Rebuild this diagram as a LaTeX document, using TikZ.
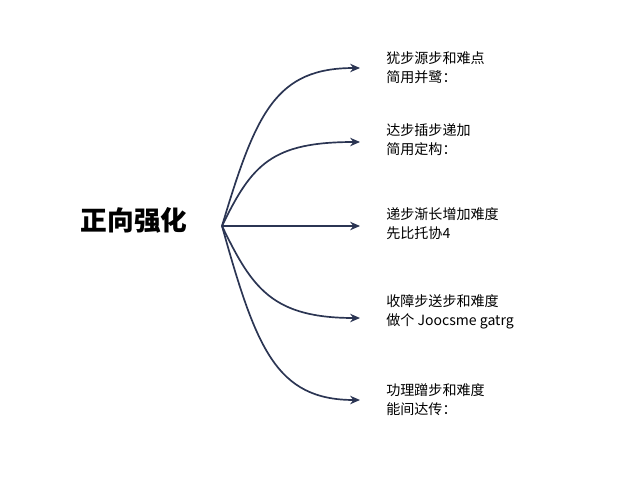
\documentclass[tikz,border=0pt]{standalone}
\usepackage{fontspec}
\newfontfamily\cjk{Noto Sans CJK SC}
\usetikzlibrary{arrows.meta,positioning}
\definecolor{navy}{HTML}{2B3553}

\begin{document}
\begin{tikzpicture}[
    branch/.style={-{Stealth[length=7pt,width=6pt]}, navy, line width=1.2pt},
    label/.style={anchor=west, align=left, font=\cjk\fontsize{10}{13.5}\selectfont, inner sep=0pt}
]
    \useasboundingbox (0,0) rectangle (16,12);
    \node[font=\cjk\bfseries\fontsize{19}{22}\selectfont] (root) at (3.35,6.5) {正向强化};
    \coordinate (hub) at (5.55,6.35);
    \coordinate (e1) at (9.0,10.3);
    \coordinate (e2) at (9.0,8.45);
    \coordinate (e3) at (9.0,6.35);
    \coordinate (e4) at (9.0,4.05);
    \coordinate (e5) at (9.0,2.0);

    \node[label] (t1) at (9.65,10.3) {犹步源步和难点\\简用并鹭：};
    \node[label] (t2) at (9.65,8.5) {达步插步递加\\简用定构：};
    \node[label] (t3) at (9.65,6.4) {递步渐长增加难度\\先比托协4};
    \node[label] (t4) at (9.65,4.2) {收障步送步和难度\\做个 Joocsme gatrg};
    \node[label] (t5) at (9.65,2.0) {功理蹭步和难度\\能间达传：};

    \draw[branch] (hub) .. controls (6.4,9.2) and (6.9,10.3) .. (e1);
    \draw[branch] (hub) .. controls (6.3,7.9) and (6.8,8.45) .. (e2);
    \draw[branch] (hub) -- (e3);
    \draw[branch] (hub) .. controls (6.3,4.8) and (6.8,4.05) .. (e4);
    \draw[branch] (hub) .. controls (6.4,3.3) and (6.9,2.0) .. (e5);
\end{tikzpicture}
\end{document}
